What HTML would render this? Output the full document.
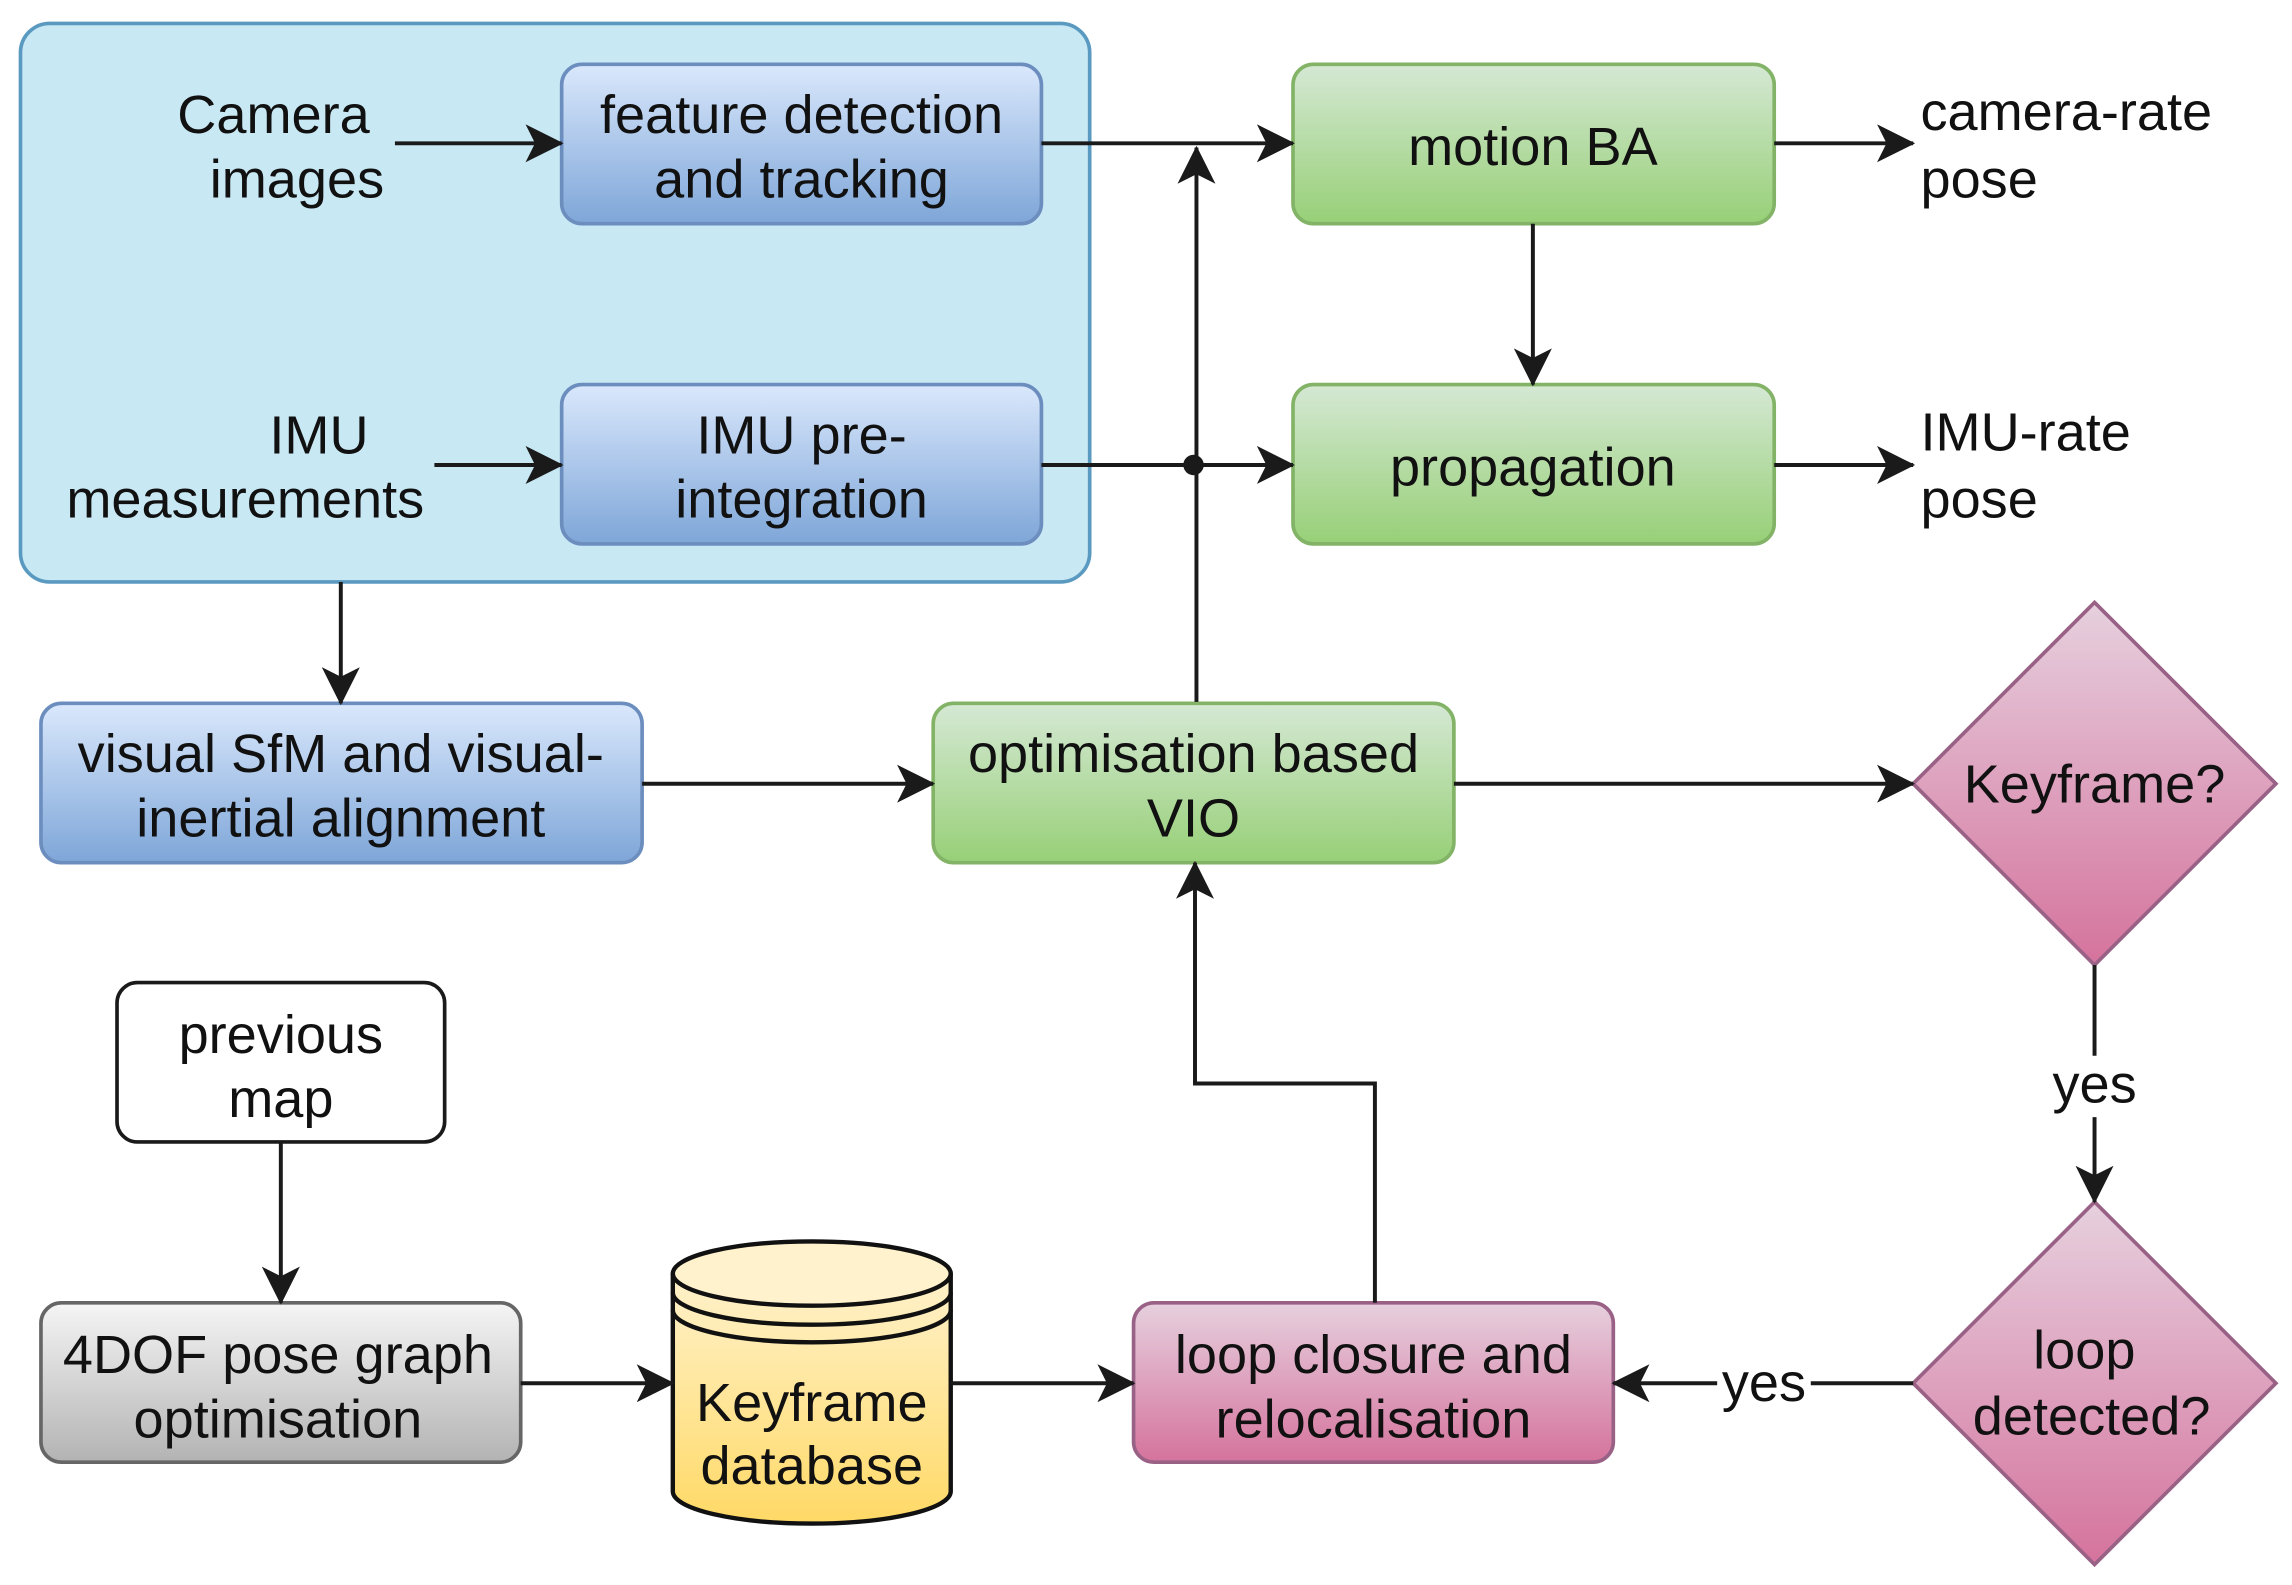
<!DOCTYPE html>
<html><head><meta charset="utf-8"><style>
html,body{margin:0;padding:0;background:#fff;}
svg{display:block;}
text{font-family:"Liberation Sans",Arial,sans-serif;font-size:37px;fill:#111;}
</style></head><body>
<svg width="2292" height="1585" viewBox="0 0 1567 1084" preserveAspectRatio="none" xmlns="http://www.w3.org/2000/svg">
<defs>
<linearGradient id="gb" x1="0" y1="0" x2="0" y2="1"><stop offset="0" stop-color="#dae8fc"/><stop offset="1" stop-color="#7ea6d8"/></linearGradient>
<linearGradient id="gg" x1="0" y1="0" x2="0" y2="1"><stop offset="0" stop-color="#d5e8d4"/><stop offset="1" stop-color="#97d077"/></linearGradient>
<linearGradient id="gp" x1="0" y1="0" x2="0" y2="1"><stop offset="0" stop-color="#e6d0de"/><stop offset="1" stop-color="#d5739d"/></linearGradient>
<linearGradient id="gs" x1="0" y1="0" x2="0" y2="1"><stop offset="0" stop-color="#f5f5f5"/><stop offset="1" stop-color="#b3b3b3"/></linearGradient>
<linearGradient id="gy" x1="0" y1="0" x2="0" y2="1"><stop offset="0" stop-color="#fff2cc"/><stop offset="1" stop-color="#ffd966"/></linearGradient>
<marker id="a" viewBox="0 0 20 20" refX="19" refY="10" markerWidth="26" markerHeight="26" markerUnits="userSpaceOnUse" orient="auto"><path d="M0,0 L20,10 L0,20 L5,10 Z" fill="#1a1a1a"/></marker>
</defs>
<rect x="14" y="16" width="731" height="382" rx="20" fill="#c8e8f4" stroke="#5a9ac0" stroke-width="2.5"/>
<g stroke="#6c8ebf" stroke-width="2.5" fill="url(#gb)">
<rect x="384" y="44" width="328" height="109" rx="14"/>
<rect x="384" y="263" width="328" height="109" rx="14"/>
<rect x="28" y="481" width="411" height="109" rx="14"/>
</g>
<g stroke="#82b366" stroke-width="2.5" fill="url(#gg)">
<rect x="884" y="44" width="329" height="109" rx="14"/>
<rect x="884" y="263" width="329" height="109" rx="14"/>
<rect x="638" y="481" width="356" height="109" rx="14"/>
</g>
<g stroke="#996185" stroke-width="2.5" fill="url(#gp)">
<rect x="775" y="891" width="328" height="109" rx="14"/>
<polygon points="1432,412 1556,536 1432,660 1308,536"/>
<polygon points="1432,822 1556,946 1432,1070 1308,946"/>
</g>
<rect x="80" y="672" width="224" height="109" rx="14" fill="#fff" stroke="#1a1a1a" stroke-width="2.5"/>
<rect x="28" y="891" width="328" height="109" rx="14" fill="url(#gs)" stroke="#666" stroke-width="2.5"/>
<path d="M460,871 L460,1020 A95,22 0 0 0 650,1020 L650,871" fill="url(#gy)" stroke="#111" stroke-width="3"/>
<ellipse cx="555" cy="871" rx="95" ry="22" fill="#fff2cc" stroke="#111" stroke-width="3"/>
<path d="M460,884 A95,22 0 0 0 650,884 M460,896 A95,22 0 0 0 650,896" fill="none" stroke="#111" stroke-width="3"/>
<g stroke="#1a1a1a" stroke-width="2.7" fill="none">
<line x1="270" y1="98" x2="384" y2="98" marker-end="url(#a)"/>
<line x1="297" y1="318" x2="384" y2="318" marker-end="url(#a)"/>
<line x1="712" y1="98" x2="884" y2="98" marker-end="url(#a)"/>
<line x1="712" y1="318" x2="884" y2="318" marker-end="url(#a)"/>
<line x1="818" y1="480" x2="818" y2="101" marker-end="url(#a)"/>
<line x1="1213" y1="98" x2="1308" y2="98" marker-end="url(#a)"/>
<line x1="1213" y1="318" x2="1308" y2="318" marker-end="url(#a)"/>
<line x1="1048" y1="153" x2="1048" y2="263" marker-end="url(#a)"/>
<line x1="233" y1="398" x2="233" y2="481" marker-end="url(#a)"/>
<line x1="439" y1="536" x2="638" y2="536" marker-end="url(#a)"/>
<line x1="994" y1="536" x2="1308" y2="536" marker-end="url(#a)"/>
<line x1="1432" y1="660" x2="1432" y2="722"/>
<line x1="1432" y1="764" x2="1432" y2="822" marker-end="url(#a)"/>
<line x1="1308" y1="946" x2="1238" y2="946"/>
<line x1="1174" y1="946" x2="1103" y2="946" marker-end="url(#a)"/>
<polyline points="940,891 940,741 817,741 817,590" marker-end="url(#a)"/>
<line x1="192" y1="781" x2="192" y2="891" marker-end="url(#a)"/>
<line x1="356" y1="946" x2="460" y2="946" marker-end="url(#a)"/>
<line x1="650" y1="946" x2="775" y2="946" marker-end="url(#a)"/>
</g>
<circle cx="816" cy="318" r="7" fill="#1a1a1a"/>
<g text-anchor="middle">
<text x="187" y="91">Camera</text><text x="203" y="135">images</text>
<text x="548" y="91">feature detection</text><text x="548" y="135">and tracking</text>
<text x="548" y="310">IMU pre-</text><text x="548" y="354">integration</text>
<text x="1048" y="113">motion BA</text>
<text x="1048" y="332">propagation</text>
<text x="233" y="528">visual SfM and visual-</text><text x="233" y="572">inertial alignment</text>
<text x="816" y="528">optimisation based</text><text x="816" y="572">VIO</text>
<text x="1432" y="549">Keyframe?</text>
<text x="1432" y="754">yes</text>
<text x="1425" y="936">loop</text><text x="1430" y="981">detected?</text>
<text x="1206" y="958">yes</text>
<text x="939" y="939">loop closure and</text><text x="939" y="983">relocalisation</text>
<text x="192" y="720">previous</text><text x="192" y="764">map</text>
<text x="190" y="939">4DOF pose graph</text><text x="190" y="983">optimisation</text>
<text x="555" y="972">Keyframe</text><text x="555" y="1015">database</text>
</g>
<g text-anchor="end"><text x="252" y="310">IMU</text><text x="290" y="354">measurements</text></g>
<text x="1313" y="89">camera-rate</text><text x="1313" y="135">pose</text>
<text x="1313" y="308">IMU-rate</text><text x="1313" y="354">pose</text>
</svg>
</body></html>
